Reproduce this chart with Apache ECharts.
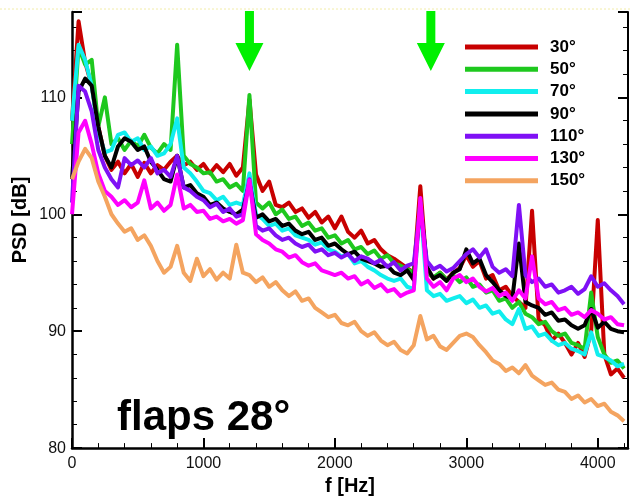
<!DOCTYPE html>
<html>
<head>
<meta charset="utf-8">
<script src="https://cdn.jsdelivr.net/npm/echarts@6/dist/echarts.min.js"></script>
<style>html,body{margin:0;padding:0;background:#fff;}#c{width:631px;height:501px;}</style>
</head>
<body>
<div id="c"></div>
<script>
// frequency grid [Hz]
const freq = [0,50,100,150,200,250,300,350,400,450,500,550,600,650,700,750,800,850,900,950,
1000,1050,1100,1150,1200,1250,1300,1350,1400,1450,1500,1550,1600,1650,1700,1750,1800,1850,1900,1950,
2000,2050,2100,2150,2200,2250,2300,2350,2400,2450,2500,2550,2600,2650,2700,2750,2800,2850,2900,2950,
3000,3050,3100,3150,3200,3250,3300,3350,3400,3450,3500,3550,3600,3650,3700,3750,3800,3850,3900,3950,
4000,4050,4100,4150,4200];

const names = ['30°','50°','70°','90°','110°','130°','150°'];

const psd30 = [108,116.5,113,111,107.5,105,103.8,104.5,103.5,104.3, 103.2,104.4,103.5,104.2,103.8,104.5,105,104.2,104.5,103.8,
104.3,103.5,104.2,103.6,104.3,103.3,104,109.8,103.4,102, 102.8,100.8,100.6,101,100.2,100.5,99.7,100.2,99.3,99.8,
98.8,99.8,98.5,98,98.6,97.5,97.8,97,96.5,96.2, 95.8,95.4,95,102.4,95.2,94.5,95,94.4,95,95.4,
96.5,95.5,96,94.5,94.8,93.5,93.8,93,92.5,92, 100.3,91,90.5,89.2,89.8,89,88,89,87.8,90,
99.5,88,86.3,86.8,86];

const psd50 = [106,114.3,112.8,113.2,107.5,110,106,106.5,105.5,106.3, 105.8,106.8,105.7,105.2,106,105.5,114.5,105,104.3,104,
103.5,103.6,102.8,103,102.3,102.6,102,110.2,101,100.5, 101,100,100.4,99.6,99.8,99,99.3,98.6,98.8,98,
98.2,97.5,97.8,97,97.2,96.6,96.9,96.2,96.5,95.8, 95.6,95.3,95,101,95,94.6,95,94.4,94.8,94.2,
94.6,93.8,94,93.3,93.5,92.6,92.8,92,92.5,91.5, 91.2,90.6,90.8,90,89.6,89.8,89,88.8,88.5,93.3,
89.5,88,87.3,87.5,86.8];

const psd70 = [108,114.5,113.2,111,107,105.3,105.5,106.8,107,106.2, 106.5,105.5,105.8,105,105.2,106,108.2,104,103.5,102.8,
102,101.8,101.2,101.5,100.8,101,100.8,103.5,100,99.6, 99,99.2,98.6,98.8,98.2,98,97.8,97.4,97.6,97,
96.8,96.4,96.6,95.8,96,95.5,95.2,94.8,94.5,94.3, 94.5,93.8,93.6,101,93.5,93,93.2,92.6,92.8,93,
92.4,92.7,92,92.2,91.5,91.7,91,90.6,91.9,90.2, 90.4,89.6,89.8,89.2,88.8,89,88.5,88.3,88,89.9,
88,87.8,87.5,87,87.2];

const psd90 = [103,110.5,111.6,111,107.5,105,104,105.8,106.5,106.2, 105.5,105.8,104.5,103.8,103,102.8,105,102.3,102.5,101.8,
101.5,100.8,101,100.5,100.2,100,100.4,102.7,99.7,100, 99.4,99.6,99,99.2,98.6,98.3,98.5,97.8,98,97.3,
97.5,97,96.6,96.8,96.2,96,95.8,95.5,95.6,95, 94.8,95.2,94.4,101,95.5,94.5,94.8,94.3,95,95.3,
97,95.8,96.2,94.8,94.2,93.5,93,92.8,97.5,92.5, 92.2,92,91.4,91.6,90.9,91,90.5,90.2,90.5,91.9,
90.3,90.8,90.2,90,89.9];

const psd110 = [101,111,110.5,108.8,105.5,104,103,102.3,104.8,104.2, 104.6,104,104.8,103.5,103.8,103.2,105,102.3,102,101.5,
101.2,100.6,100.9,100.2,100.5,99.8,100,103,99,98.6, 98.8,98.2,97.8,98,97.5,97.2,97.4,96.8,97,96.5,
96.7,96.3,96.6,96,96.4,96.2,95.8,96.1,95.5,95.9, 95.2,95.6,95.8,100.5,96,95.3,95.6,95.1,95.4,96,
96.6,97,96.3,97,95.5,95,95.3,94.7,100.8,94.8, 94.2,94.5,93.8,94,93.3,93.5,93.8,93.2,93.6,94.7,
93.8,94.1,93.5,93,92.3];

const psd130 = [100,107,108,106,103.5,102,101.5,100.8,101.2,100.6, 101,102.9,100.5,101,100.3,100.8,103.4,100.5,100.8,100.2,
100.3,99.6,99.8,99.4,99.6,99.2,99.5,102.9,98.3,97.8, 97.5,97,96.8,96.3,96.5,95.9,95.6,95.8,95.2,95,
94.8,95,94.5,94.7,94,94.3,93.7,94,93.4,93.6, 93,93.3,93.5,101.4,94.5,93.8,94.2,93.5,94.5,94.8,
94.2,94.5,93.8,93.4,93.7,93,93.3,92.6,93.5,92.8, 96.4,92.8,92.3,92.5,91.8,92,91.4,91.6,91.2,91.8,
91.5,91,91.2,90.6,90.5];

const psd150 = [103,104.5,105.6,104.8,102.8,101.5,100,99.2,98.5,98.8, 97.8,98.2,97.3,96,95,95.5,97.3,95,94.3,96.2,
94.7,95.3,94.4,95,94.5,97.4,95,94.8,94.2,94.6, 93.8,94.2,93.5,93,93.4,92.6,92.8,92,91.6,91.2,
91.4,90.7,90.5,90.8,90,89.6,89.9,89.2,88.8,89.1, 88.4,88.1,88.8,91.3,89.3,89.6,88.7,88.4,89,89.6,
89.8,89.5,88.8,88.2,87.5,87.2,86.6,86.9,86.4,87.1, 86.2,85.8,85.4,85.6,85,84.8,84.2,84.5,83.9,84.2,
83.6,83.8,83.1,82.8,82.3];

const seriesValues = [psd30, psd50, psd70, psd90, psd110, psd130, psd150];
const colors = ['#c80000','#1ec81e','#11eeee','#000000','#7f10f5','#ff00ff','#f4a460'];

// annotation arrows (frequencies)
const arrowFreqs = [1350, 2730];

const xTicks = [0, 1000, 2000, 3000, 4000];
const yTicks = [80, 90, 100, 110];

const FONT = 'Liberation Sans, Arial, Helvetica, sans-serif';
const chart = echarts.init(document.getElementById('c'), null, {renderer: 'canvas'});

const series = seriesValues.map((vals, k) => ({
  name: names[k],
  type: 'line',
  color: colors[k],
  data: freq.map((f, i) => [f, vals[i]]),
  showSymbol: false,
  symbol: 'none',
  lineStyle: {width: 4, color: colors[k], join: 'round'},
  emphasis: {disabled: true},
  animation: false
}));

const yAxisBase = {
  type: 'value', min: 80, max: 117.3, interval: 10,
  splitLine: {show: false},
  axisLine: {show: true, onZero: false, lineStyle: {color: '#000', width: 2.5}},
  axisTick: {show: true, inside: true, length: 10, lineStyle: {color: '#000', width: 2}},
  minorTick: {show: true, splitNumber: 5, length: 5, lineStyle: {color: '#000', width: 1}},
  minorSplitLine: {show: false}
};

chart.setOption({
  backgroundColor: '#fff',
  animation: false,
  grid: {left: 72, right: 2, top: 12, bottom: 47},
  xAxis: {
    type: 'value', min: 0, max: 4230, interval: 1000,
    name: 'f [Hz]', nameLocation: 'middle', nameGap: 27,
    nameTextStyle: {fontFamily: FONT, fontWeight: 'bold', fontSize: 20, color: '#000', verticalAlign: 'top'},
    splitLine: {show: false},
    axisLine: {show: true, onZero: false, lineStyle: {color: '#000', width: 2.5}},
    axisTick: {show: true, inside: true, length: 10, lineStyle: {color: '#000', width: 2}},
    minorTick: {show: true, splitNumber: 5, length: 5, lineStyle: {color: '#000', width: 1}},
    axisLabel: {fontFamily: FONT, fontSize: 16, color: '#111', margin: 7,
      formatter: v => xTicks.indexOf(v) >= 0 ? String(v) : ''}
  },
  yAxis: [
    Object.assign({}, yAxisBase, {
      position: 'left',
      axisLabel: {fontFamily: FONT, fontSize: 16, color: '#111', margin: 6,
        formatter: v => yTicks.indexOf(v) >= 0 ? String(v) : ''}
    }),
    Object.assign({}, yAxisBase, {
      position: 'right',
      axisLine: {show: true, onZero: false, lineStyle: {color: '#000', width: 2}},
      axisLabel: {show: false}
    })
  ],
  legend: {
    orient: 'vertical', left: 460, top: 33,
    icon: 'rect', itemWidth: 73, itemHeight: 5, itemGap: 4.3,
    selectedMode: false,
    data: names,
    textStyle: {fontFamily: FONT, fontWeight: 'bold', fontSize: 17, color: '#000', lineHeight: 18, padding: [0, 0, 0, 7]}
  },
  series: series
});

// arrows and annotation texts
const arrows = arrowFreqs.map(f => {
  const x = chart.convertToPixel({xAxisIndex: 0}, f);
  return {
    type: 'polygon', silent: true, z: 100,
    shape: {points: [[x - 4.5, 11], [x + 4.5, 11], [x + 4.5, 43], [x + 14, 43], [x, 71], [x - 14, 43], [x - 4.5, 43]]},
    style: {fill: '#00f000'}
  };
});

chart.setOption({
  graphic: [
    {type: 'line', silent: true, shape: {x1: 0, y1: 9, x2: 631, y2: 9},
     style: {stroke: '#f2eca8', lineWidth: 1, lineDash: [2, 2]}},
    {type: 'text', silent: true, x: 20, y: 220, rotation: Math.PI / 2,
     style: {text: 'PSD [dB]', font: 'bold 20px ' + FONT, fill: '#000', align: 'center', verticalAlign: 'middle'}},
    {type: 'text', silent: true, x: 117, y: 439, z: 100,
     style: {text: 'flaps 28°', font: 'bold 42px ' + FONT, fill: '#000', align: 'left', verticalAlign: 'bottom'}}
  ].concat(arrows)
});
</script>
</body>
</html>
